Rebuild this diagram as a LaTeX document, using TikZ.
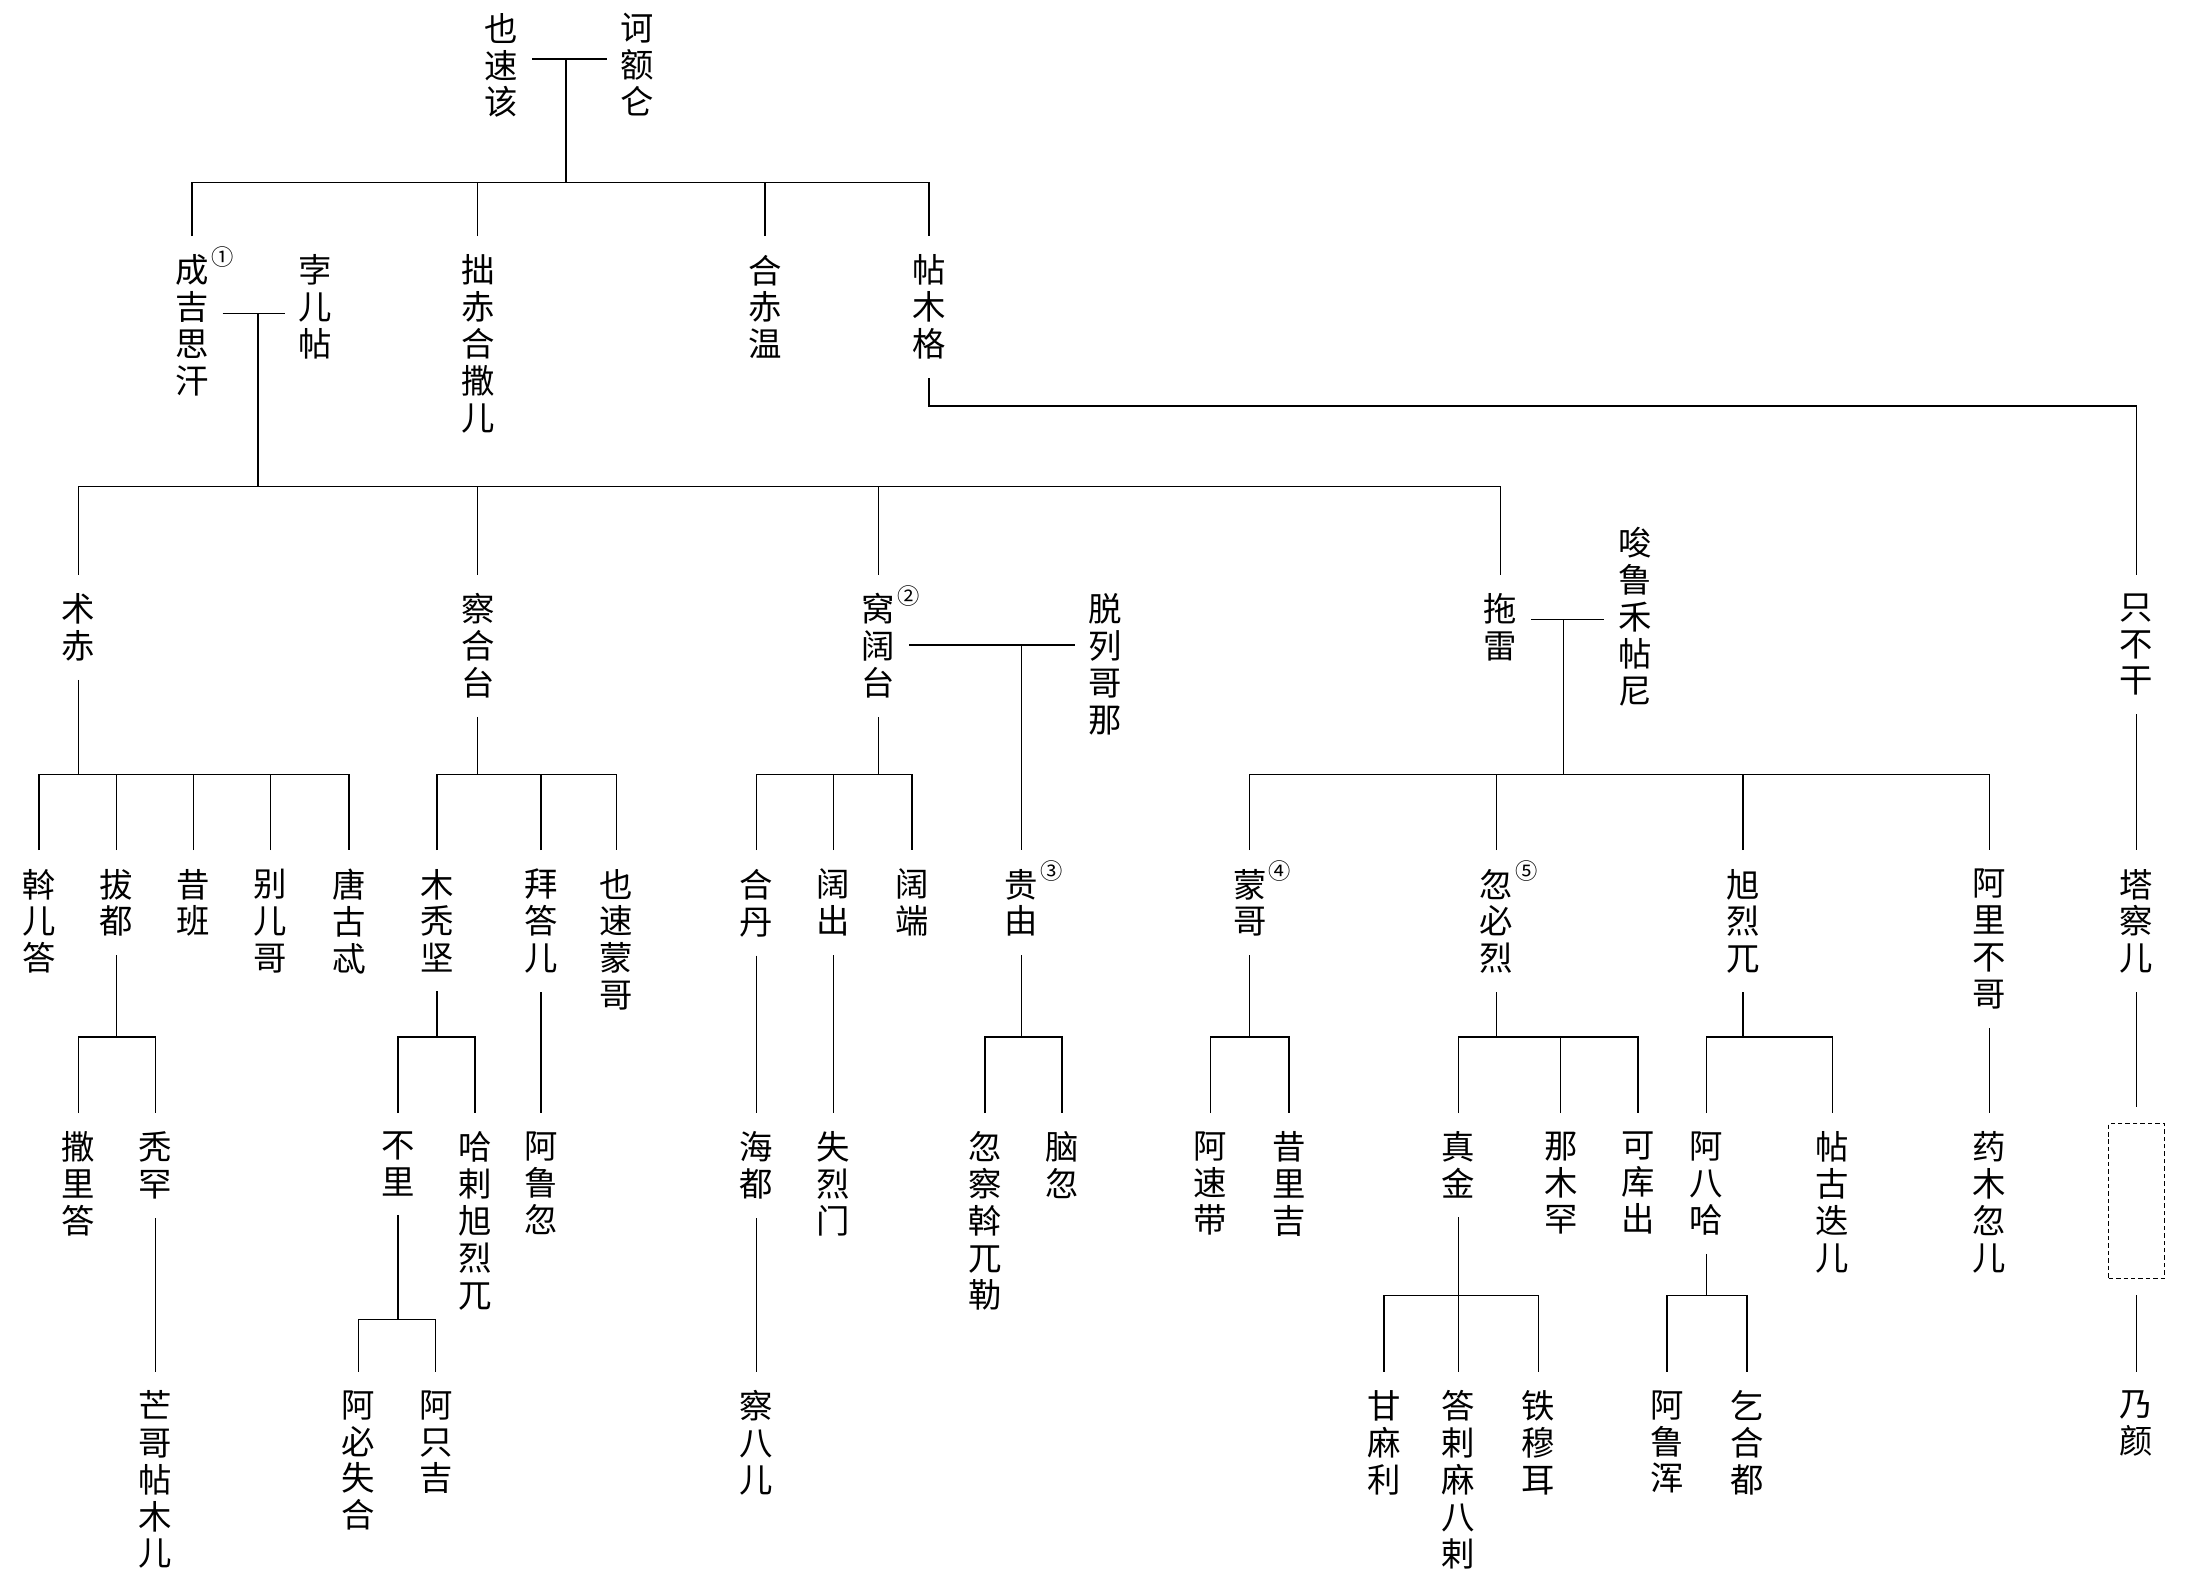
\documentclass[tikz,border=0pt]{standalone}
\usepackage{fontspec}
\newfontfamily\cjk{Noto Sans CJK SC}
\newcommand{\notemark}[1]{\rlap{\hspace{1pt}\smash{\raisebox{7.2pt}{\fontsize{9}{9}\selectfont #1}}}}

\begin{document}
\begin{tikzpicture}
	[x=0.019894cm, y=-0.019965cm,
	person/.style={anchor=north, align=center, inner xsep=0.19cm, inner ysep=0.26cm, font=\cjk\fontsize{13.5}{14.9}\selectfont},
	gapbox/.style={draw, line width=0.6pt, dash pattern=on 1.8pt off 1.2pt, minimum width=0.79cm, minimum height=2.2cm, outer ysep=0.24cm},
	link/.style={line width=0.6pt}
	]
	
	\useasboundingbox (0,0) rectangle (1565.3,1127.3);
	
	%Set params
	\def\rowA{-4}
	\def\rowB{168}
	\def\rowC{409}
	\def\rowD{605}
	\def\rowE{792}
	\def\rowF{976}
	
	%Parents
	\node(Yesugei)[person] at (358,\rowA) {也\\速\\该};
	\node(Hoelun)[person] at (455,\rowA) {诃\\额\\仑};
	
	%Sons of Yesugei
	\node(Temujin)[person] at (137,\rowB) {成\notemark{①}\\吉\\思\\汗};
	\node(Borte)[person] at (225,\rowB) {孛\\儿\\帖};
	\node(Qasar)[person] at (341,\rowB) {拙\\赤\\合\\撒\\儿};
	\node(Qachiun)[person] at (546,\rowB) {合\\赤\\温};
	\node(Temuge)[person] at (663,\rowB) {帖\\木\\格};
	
	%Sons of Temujin
	\node(Jochi)[person] at (56,\rowC) {术\\赤};
	\node(Chagatai)[person] at (341,\rowC) {察\\合\\台};
	\node(Ogedei)[person] at (627,\rowC) {窝\notemark{②}\\阔\\台};
	\node(Toregene)[person] at (789,\rowC) {脱\\列\\哥\\那};
	\node(Tolui)[person] at (1071,\rowC) {拖\\雷};
	\node(Sorghaghtani)[person] at (1167,362) {唆\\鲁\\禾\\帖\\尼};
	\node(Jibugen)[person] at (1525,\rowC) {只\\不\\干};
	
	%Grandsons
	\node(Orda)[person] at (28,\rowD) {斡\\儿\\答};
	\node(Batu)[person] at (83,\rowD) {拔\\都};
	\node(Shiban)[person] at (138,\rowD) {昔\\班};
	\node(Berke)[person] at (193,\rowD) {别\\儿\\哥};
	\node(Tangut)[person] at (249,\rowD) {唐\\古\\忒};
	\node(Mutugen)[person] at (312,\rowD) {木\\秃\\坚};
	\node(Baidar)[person] at (386,\rowD) {拜\\答\\儿};
	\node(Yesumongke)[person] at (440,\rowD) {也\\速\\蒙\\哥};
	\node(Qadan)[person] at (540,\rowD) {合\\丹};
	\node(Kochu)[person] at (595,\rowD) {阔\\出};
	\node(Koten)[person] at (651,\rowD) {阔\\端};
	\node(Guyuk)[person] at (729,\rowD) {贵\notemark{③}\\由};
	\node(Mongke)[person] at (892,\rowD) {蒙\notemark{④}\\哥};
	\node(Kublai)[person] at (1068,\rowD) {忽\notemark{⑤}\\必\\烈};
	\node(Hulagu)[person] at (1244,\rowD) {旭\\烈\\兀};
	\node(Arikboke)[person] at (1420,\rowD) {阿\\里\\不\\哥};
	\node(Tachar)[person] at (1525,\rowD) {塔\\察\\儿};
	
	%Great-grandsons
	\node(Sartaq)[person] at (56,\rowE) {撒\\里\\答};
	\node(Tuqan)[person] at (111,\rowE) {秃\\罕};
	\node(Buri)[person] at (284,\rowE) {不\\里};
	\node(QaraHulegu)[person] at (339,\rowE) {哈\\剌\\旭\\烈\\兀};
	\node(Alghu)[person] at (386,\rowE) {阿\\鲁\\忽};
	\node(Qaidu)[person] at (540,\rowE) {海\\都};
	\node(Shiremun)[person] at (595,\rowE) {失\\烈\\门};
	\node(QochaOghul)[person] at (703,\rowE) {忽\\察\\斡\\兀\\勒};
	\node(Naqu)[person] at (758,\rowE) {脑\\忽};
	\node(Asutai)[person] at (864,\rowE) {阿\\速\\带};
	\node(Shiregi)[person] at (920,\rowE) {昔\\里\\吉};
	\node(Zhenjin)[person] at (1041,\rowE) {真\\金};
	\node(Nomuqan)[person] at (1114,\rowE) {那\\木\\罕};
	\node(Kokochu)[person] at (1169,\rowE) {可\\库\\出};
	\node(Abaqa)[person] at (1218,\rowE) {阿\\八\\哈};
	\node(Tekuder)[person] at (1308,\rowE) {帖\\古\\迭\\儿};
	\node(Yomuqur)[person] at (1420,\rowE) {药\\木\\忽\\儿};
	\node(Gap)[gapbox] at (1525,854.6) {};
	
	%Last row
	\node(MongkeTemur)[person] at (111,\rowF) {芒\\哥\\帖\\木\\儿};
	\node(Abishqa)[person] at (256,\rowF) {阿\\必\\失\\合};
	\node(Ajiqi)[person] at (311,\rowF) {阿\\只\\吉};
	\node(Chapar)[person] at (540,\rowF) {察\\八\\儿};
	\node(Gammala)[person] at (988,\rowF) {甘\\麻\\利};
	\node(Darmabala)[person] at (1041,\rowF) {答\\剌\\麻\\八\\剌};
	\node(Temur)[person] at (1098,\rowF) {铁\\穆\\耳};
	\node(Arghun)[person] at (1190,\rowF) {阿\\鲁\\浑};
	\node(Gaikhatu)[person] at (1247,\rowF) {乞\\合\\都};
	\node(Nayan)[person] at (1525,\rowF) {乃\\颜};
	
	%Yesugei line
	\coordinate(M0) at (404,42);
	\coordinate(Bar1) at (404,130);
	\draw[link] (Yesugei.east |- M0) -- (Hoelun.west |- M0);
	\draw[link] (M0) -- (Bar1);
	\draw[link] (Temujin.north) |- (Bar1) -| (Temuge.north);
	\foreach \c in {Qasar,Qachiun} \draw[link] (\c.north) -- (\c.north |- Bar1);
	
	%Temujin line
	\coordinate(M1) at (184,223);
	\coordinate(Bar2) at (184,346);
	\draw[link] (Temujin.east |- M1) -- (Borte.west |- M1);
	\draw[link] (M1) -- (Bar2);
	\draw[link] (Jochi.north) |- (Bar2) -| (Tolui.north);
	\foreach \c in {Chagatai,Ogedei} \draw[link] (\c.north) -- (\c.north |- Bar2);
	
	%Temuge line
	\coordinate(Bend) at (1525,289);
	\draw[link] (Temuge.south) |- (Bend) -- (Jibugen.north);
	\draw[link] (Jibugen.south) -- (Tachar.north);
	\draw[link] (Tachar.south) -- (Gap.north);
	\draw[link] (Gap.south) -- (Nayan.north);
	
	%Jochi line
	\coordinate(BarJ) at (56,551);
	\draw[link] (Jochi.south) -- (BarJ);
	\draw[link] (Orda.north) |- (BarJ) -| (Tangut.north);
	\foreach \c in {Batu,Shiban,Berke} \draw[link] (\c.north) -- (\c.north |- BarJ);
	\coordinate(BarB) at (83,738);
	\draw[link] (Batu.south) -- (BarB);
	\draw[link] (Sartaq.north) |- (BarB) -| (Tuqan.north);
	\draw[link] (Tuqan.south) -- (MongkeTemur.north);
	
	%Chagatai line
	\coordinate(BarC) at (341,551);
	\draw[link] (Chagatai.south) -- (BarC);
	\draw[link] (Mutugen.north) |- (BarC) -| (Yesumongke.north);
	\draw[link] (Baidar.north) -- (Baidar.north |- BarC);
	\coordinate(BarM) at (312,738);
	\draw[link] (Mutugen.south) -- (BarM);
	\draw[link] (Buri.north) |- (BarM) -| (QaraHulegu.north);
	\draw[link] (Baidar.south) -- (Alghu.north);
	\coordinate(BarBu) at (284,939);
	\draw[link] (Buri.south) -- (BarBu);
	\draw[link] (Abishqa.north) |- (BarBu) -| (Ajiqi.north);
	
	%Ogedei line
	\coordinate(BarO) at (627,551);
	\coordinate(M2) at (729,459);
	\draw[link] (Ogedei.south) -- (BarO);
	\draw[link] (Qadan.north) |- (BarO) -| (Koten.north);
	\draw[link] (Kochu.north) -- (Kochu.north |- BarO);
	\draw[link] (Ogedei.east |- M2) -- (Toregene.west |- M2);
	\draw[link] (M2) -- (Guyuk.north);
	\draw[link] (Qadan.south) -- (Qaidu.north);
	\draw[link] (Qaidu.south) -- (Chapar.north);
	\draw[link] (Kochu.south) -- (Shiremun.north);
	\coordinate(BarG) at (729,738);
	\draw[link] (Guyuk.south) -- (BarG);
	\draw[link] (QochaOghul.north) |- (BarG) -| (Naqu.north);
	
	%Tolui line
	\coordinate(M3) at (1116,441);
	\coordinate(BarT) at (1116,551);
	\draw[link] (Tolui.east |- M3) -- (Sorghaghtani.west |- M3);
	\draw[link] (M3) -- (BarT);
	\draw[link] (Mongke.north) |- (BarT) -| (Arikboke.north);
	\foreach \c in {Kublai,Hulagu} \draw[link] (\c.north) -- (\c.north |- BarT);
	\coordinate(BarMo) at (892,738);
	\draw[link] (Mongke.south) -- (BarMo);
	\draw[link] (Asutai.north) |- (BarMo) -| (Shiregi.north);
	\coordinate(BarK) at (1068,738);
	\draw[link] (Kublai.south) -- (BarK);
	\draw[link] (Zhenjin.north) |- (BarK) -| (Kokochu.north);
	\draw[link] (Nomuqan.north) -- (Nomuqan.north |- BarK);
	\coordinate(BarZ) at (1041,922);
	\draw[link] (Zhenjin.south) -- (Darmabala.north);
	\draw[link] (Gammala.north) |- (BarZ) -| (Temur.north);
	\coordinate(BarH) at (1244,738);
	\draw[link] (Hulagu.south) -- (BarH);
	\draw[link] (Abaqa.north) |- (BarH) -| (Tekuder.north);
	\coordinate(BarA) at (1218,922);
	\draw[link] (Abaqa.south) -- (BarA);
	\draw[link] (Arghun.north) |- (BarA) -| (Gaikhatu.north);
	\draw[link] (Arikboke.south) -- (Yomuqur.north);
	
\end{tikzpicture}
\end{document}
